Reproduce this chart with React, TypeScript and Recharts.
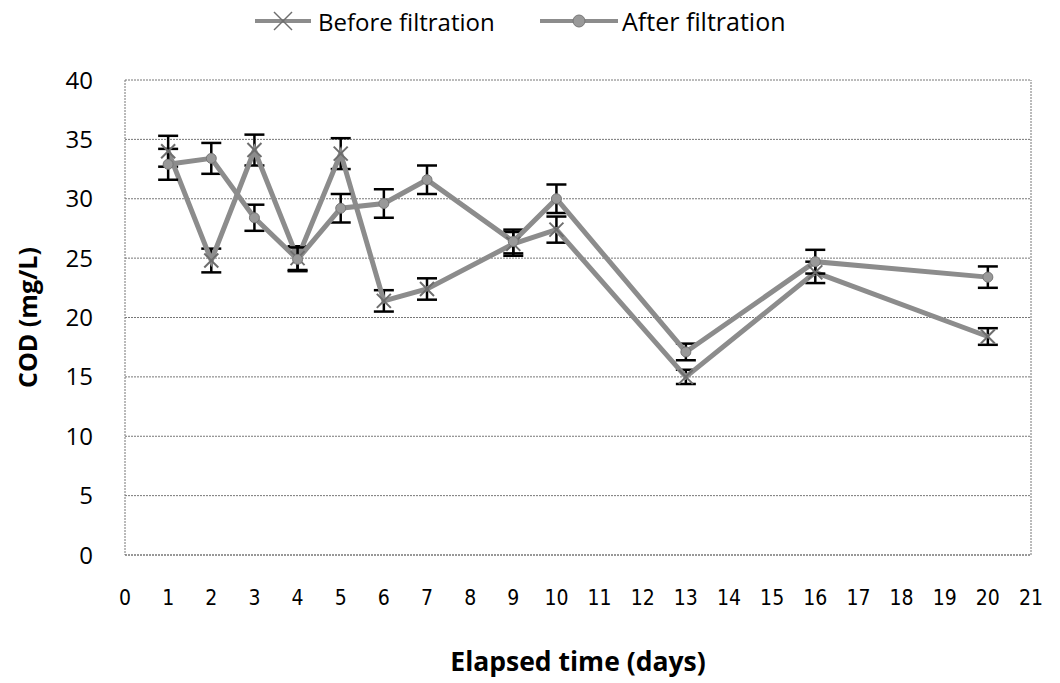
import React from 'react';
import {
  LineChart, Line, XAxis, YAxis, CartesianGrid, ErrorBar, Legend, ReferenceLine,
} from 'recharts';

const days = [1, 2, 3, 4, 5, 6, 7, 9, 10, 13, 16, 20];
const beforeValues = [34.0, 24.8, 34.1, 25.0, 33.8, 21.4, 22.4, 26.2, 27.4, 15.0, 23.8, 18.4];
const afterValues = [32.9, 33.4, 28.4, 24.9, 29.2, 29.6, 31.6, 26.4, 30.0, 17.1, 24.7, 23.4];
const beforeErrors = [1.3, 1.0, 1.3, 1.0, 1.3, 0.9, 0.9, 1.0, 1.1, 0.6, 0.9, 0.7];
const afterErrors = [1.3, 1.3, 1.1, 1.0, 1.2, 1.2, 1.2, 1.0, 1.2, 0.7, 1.0, 0.9];
const xTicks = [0, 1, 2, 3, 4, 5, 6, 7, 8, 9, 10, 11, 12, 13, 14, 15, 16, 17, 18, 19, 20, 21];
const yTicks = [0, 5, 10, 15, 20, 25, 30, 35, 40];
const seriesNames = ['Before filtration', 'After filtration'];
const yTitle = 'COD (mg/L)';
const xTitle = 'Elapsed time (days)';

const data = days.map((d, i) => ({
  day: d,
  before: beforeValues[i],
  after: afterValues[i],
  beforeErr: beforeErrors[i],
  afterErr: afterErrors[i],
}));

const LINE = '#8c8c8c';

const XDot = (props: any) => {
  const { cx, cy } = props;
  if (cx == null || cy == null) return null;
  const s = 7;
  return (
    <g>
      <line x1={cx - s} y1={cy - s} x2={cx + s} y2={cy + s} stroke="#6e6e6e" strokeWidth={2} />
      <line x1={cx - s} y1={cy + s} x2={cx + s} y2={cy - s} stroke="#6e6e6e" strokeWidth={2} />
    </g>
  );
};

const CircleDot = (props: any) => {
  const { cx, cy } = props;
  if (cx == null || cy == null) return null;
  return <circle cx={cx} cy={cy} r={5} fill="#999" stroke="#777" strokeWidth={1} />;
};

const LegendContent = () => (
  <div style={{ display: 'flex', justifyContent: 'flex-start', alignItems: 'center', paddingLeft: 255, fontFamily: '"Open Sans", sans-serif', fontSize: 24, color: '#000' }}>
    <svg width={56} height={24} style={{ marginRight: 7, flex: 'none' }}>
      <line x1={0} y1={12} x2={56} y2={12} stroke={LINE} strokeWidth={4} />
      <line x1={19} y1={3} x2={37} y2={21} stroke="#6e6e6e" strokeWidth={1.5} />
      <line x1={19} y1={21} x2={37} y2={3} stroke="#6e6e6e" strokeWidth={1.5} />
    </svg>
    <span style={{ width: 222, flex: 'none', whiteSpace: 'nowrap' }}>{seriesNames[0]}</span>
    <svg width={78} height={24} style={{ marginRight: 4, flex: 'none' }}>
      <line x1={0} y1={12} x2={78} y2={12} stroke={LINE} strokeWidth={4} />
      <circle cx={39} cy={12} r={6} fill="#999" stroke="#777" />
    </svg>
    <span style={{ whiteSpace: 'nowrap', fontSize: 25 }}>{seriesNames[1]}</span>
  </div>
);

const YTitle = (props: any) => {
  const vb = props.viewBox || {};
  const x = (vb.x || 0) + 27;
  const y = (vb.y || 0) + (vb.height || 0) / 2;
  return (
    <text
      x={x}
      y={y}
      transform={`rotate(-90, ${x}, ${y})`}
      textAnchor="middle"
      dominantBaseline="central"
      style={{ fill: '#000', fontSize: 25, fontWeight: 700, fontFamily: '"Open Sans", sans-serif' }}
    >
      {yTitle}
    </text>
  );
};

export default function App() {
  return (
    <div style={{ position: 'absolute', left: 0, top: 0, width: 1060, height: 683, background: '#fff' }}>
      <LineChart width={1060} height={683} data={data} margin={{ top: 40, right: 29, bottom: 0, left: 0 }}>
        <Legend verticalAlign="top" height={40} content={<LegendContent />} wrapperStyle={{ top: 4, left: 0, width: 1060 }} />
        <CartesianGrid vertical={false} stroke="#777" strokeDasharray="2 1" />
        <XAxis
          dataKey="day"
          type="number"
          domain={[0, 21]}
          ticks={xTicks}
          interval={0}
          height={128}
          tickLine={false}
          tickSize={0}
          tickMargin={35}
          axisLine={{ stroke: '#777', strokeDasharray: '2 1' }}
          tick={{ fill: '#000', fontSize: 21, fontFamily: '"Liberation Sans Narrow", "DejaVu Sans Condensed", sans-serif' }}
          label={{ value: xTitle, position: 'insideBottom', offset: 12, style: { fill: '#000', fontSize: 26.5, fontWeight: 700, fontFamily: '"Open Sans", sans-serif' } }}
        />
        <YAxis
          type="number"
          domain={[0, 40]}
          ticks={yTicks}
          width={125}
          tickLine={false}
          tickSize={0}
          tickMargin={32}
          axisLine={{ stroke: '#777', strokeDasharray: '2 1' }}
          tick={{ fill: '#000', fontSize: 24, fontFamily: '"Open Sans", sans-serif' }}
          label={<YTitle />}
        />
        <ReferenceLine x={21} stroke="#777" strokeDasharray="2 1" />
        <Line
          type="linear"
          dataKey="before"
          name={seriesNames[0]}
          stroke={LINE}
          strokeWidth={5}
          dot={<XDot />}
          activeDot={false}
          isAnimationActive={false}
        >
          <ErrorBar dataKey="beforeErr" width={10} strokeWidth={2.5} stroke="#000" direction="y" isAnimationActive={false} />
        </Line>
        <Line
          type="linear"
          dataKey="after"
          name={seriesNames[1]}
          stroke={LINE}
          strokeWidth={5}
          dot={<CircleDot />}
          activeDot={false}
          isAnimationActive={false}
        >
          <ErrorBar dataKey="afterErr" width={10} strokeWidth={2.5} stroke="#000" direction="y" isAnimationActive={false} />
        </Line>
      </LineChart>
    </div>
  );
}
